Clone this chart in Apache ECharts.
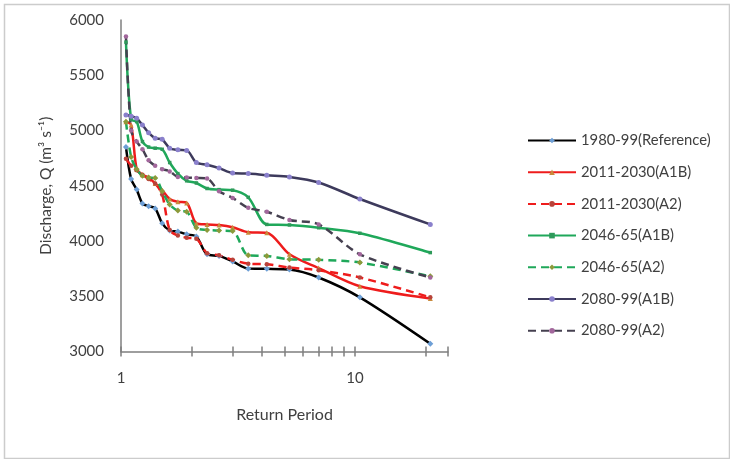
<!DOCTYPE html>
<html>
<head>
<meta charset="utf-8">
<script src="https://cdn.jsdelivr.net/npm/echarts@6/dist/echarts.min.js"></script>
<style>
html,body{margin:0;padding:0;background:#fff;}
#chart{width:730px;height:459px;}
</style>
</head>
<body>
<div id="chart"></div>
<script>
// Return periods (x) and series values (y)
const returnPeriods = [1.05, 1.105, 1.167, 1.235, 1.3125, 1.4, 1.5, 1.615, 1.75, 1.909, 2.1, 2.333, 2.625, 3, 3.5, 4.2, 5.25, 7, 10.5, 21];
const ref1980 = [4850, 4560, 4465, 4340, 4315, 4295, 4160, 4095, 4085, 4060, 4040, 3880, 3865, 3815, 3750, 3748, 3742, 3670, 3490, 3070];
const a1b2011 = [5080, 5050, 4650, 4600, 4575, 4520, 4460, 4380, 4355, 4345, 4160, 4150, 4145, 4125, 4080, 4075, 3880, 3755, 3590, 3480];
const a2_2011 = [4745, 4680, 4640, 4600, 4560, 4520, 4420, 4100, 4050, 4030, 4020, 3890, 3870, 3830, 3795, 3790, 3760, 3735, 3670, 3490];
const a1b2046 = [5800, 5100, 5080, 4900, 4850, 4840, 4830, 4710, 4610, 4545, 4525, 4475, 4465, 4460, 4395, 4150, 4145, 4120, 4070, 3895];
const a2_2046 = [5080, 4760, 4650, 4590, 4575, 4570, 4450, 4330, 4275, 4265, 4120, 4100, 4095, 4090, 3870, 3865, 3835, 3830, 3805, 3680];
const a1b2080 = [5140, 5130, 5110, 5050, 4980, 4930, 4920, 4840, 4825, 4820, 4710, 4690, 4660, 4615, 4610, 4595, 4580, 4530, 4380, 4150];
const a2_2080 = [5850, 5000, 4900, 4830, 4730, 4680, 4650, 4630, 4580, 4575, 4570, 4565, 4450, 4390, 4300, 4265, 4190, 4150, 3880, 3670];

const seriesNames = ['1980-99(Reference)', '2011-2030(A1B)', '2011-2030(A2)', '2046-65(A1B)', '2046-65(A2)', '2080-99(A1B)', '2080-99(A2)'];
const xTickValues = [1, 2, 3, 4, 5, 6, 7, 8, 9, 10, 20, 25];
const xLabelValues = [1, 10];
const yMin = 3000, yMax = 6000, yStep = 500;

const FONT = 'Lato';
const TXT = '#404040';

function pairs(vals) { return returnPeriods.map((t, i) => [t, vals[i]]); }

function mk(name, vals, lineColor, dashed, symbol, symColor, symSize) {
  return {
    name: name,
    type: 'line',
    data: pairs(vals),
    smooth: 0.3,
    symbol: symbol,
    symbolSize: symSize,
    showAllSymbol: true,
    lineStyle: { color: lineColor, width: 2.5, type: dashed ? [8, 5] : 'solid' },
    itemStyle: { color: symColor, borderWidth: 0 },
    emphasis: { disabled: true },
    animation: false
  };
}

const chart = echarts.init(document.getElementById('chart'), null, { renderer: 'canvas' });
chart.setOption({
  animation: false,
  backgroundColor: '#fff',
  graphic: [{
    type: 'rect', left: 2, top: 2, z: -10,
    shape: { width: 725, height: 454 },
    style: { fill: 'none', stroke: '#cccccc', lineWidth: 1.5 }
  }],
  grid: { left: 121, right: 282, top: 20, bottom: 107.5 },
  legend: {
    orient: 'vertical',
    left: 522, top: 128,
    itemWidth: 48, itemHeight: 7, itemGap: 16.7,
    textStyle: { fontFamily: FONT, fontSize: 14.8, color: TXT },
    data: seriesNames
  },
  xAxis: [{
    type: 'log', logBase: 10, min: 1, max: 25,
    position: 'bottom',
    axisLine: { lineStyle: { color: '#7f7f7f', width: 1.5 } },
    axisTick: { show: true, length: 5, customValues: xTickValues, lineStyle: { color: '#7f7f7f', width: 1.5 } },
    axisLabel: { customValues: xLabelValues, margin: 19, fontFamily: FONT, fontSize: 15, color: TXT },
    splitLine: { show: false },
    minorTick: { show: false },
    name: 'Return Period', nameLocation: 'middle', nameGap: 55,
    nameTextStyle: { fontFamily: FONT, fontSize: 16, color: TXT }
  }, {
    type: 'log', logBase: 10, min: 1, max: 25,
    position: 'bottom',
    axisLine: { show: false },
    axisTick: { show: true, inside: true, length: 5, customValues: xTickValues, lineStyle: { color: '#7f7f7f', width: 1.5 } },
    axisLabel: { show: false },
    splitLine: { show: false }
  }],
  yAxis: {
    type: 'value', min: yMin, max: yMax, interval: yStep,
    axisLine: { show: true, lineStyle: { color: '#7f7f7f', width: 1.5 } },
    axisTick: { show: false },
    axisLabel: { margin: 17, fontFamily: FONT, fontSize: 15, color: TXT, formatter: v => String(v) },
    splitLine: { show: false },
    name: 'Discharge, Q (m³ s⁻¹)', nameLocation: 'middle', nameGap: 67,
    nameTextStyle: { fontFamily: FONT, fontSize: 15.5, color: TXT }
  },
  series: [
    mk(seriesNames[0], ref1980, '#000000', false, 'diamond', '#6d9fd6', 6),
    mk(seriesNames[1], a1b2011, '#ee1c1c', false, 'triangle', '#c98a3c', 5),
    mk(seriesNames[2], a2_2011, '#ee1c1c', true, 'circle', '#b8433a', 4.5),
    mk(seriesNames[3], a1b2046, '#1fa85a', false, 'rect', '#2e9a5a', 3.5),
    mk(seriesNames[4], a2_2046, '#1fa85a', true, 'diamond', '#8c9a3a', 6),
    mk(seriesNames[5], a1b2080, '#3d3a5c', false, 'circle', '#8a80cc', 5),
    mk(seriesNames[6], a2_2080, '#454050', true, 'circle', '#a2679c', 4.5)
  ]
});
</script>
</body>
</html>
